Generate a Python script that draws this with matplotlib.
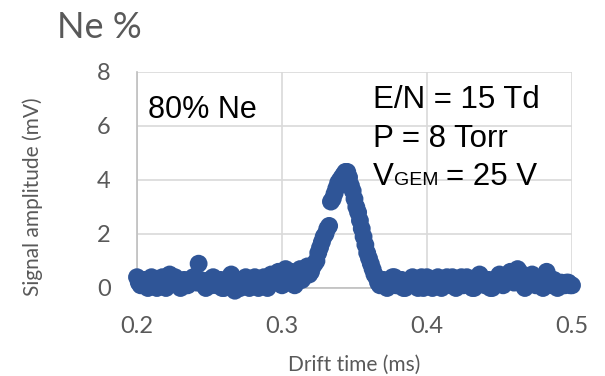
import numpy as np
import matplotlib.pyplot as plt

# drift time sampling (ms) and signal amplitude (mV)
drift_time = np.arange(0.2, 0.50001, 0.00125)
signal_mv = [
    0.4, 0.2, 0.1, 0.3, 0.3, 0.1, 0.0, 0.2, 0.4, 0.3,
    0.2, 0.0, 0.1, 0.3, 0.4, 0.2, 0.0, 0.3, 0.5, 0.2,
    0.2, 0.4, 0.3, 0.1, 0.0, 0.2, 0.3, 0.1, 0.1, 0.3,
    0.2, 0.4, 0.4, 0.2, 0.9, 0.3, 0.2, 0.1, 0.0, 0.2,
    0.3, 0.1, 0.4, 0.2, 0.1, 0.3, 0.3, 0.0, 0.0, 0.2,
    0.2, 0.4, 0.5, 0.1, -0.1, 0.2, 0.3, 0.0, 0.1, 0.3,
    0.4, 0.2, 0.0, 0.1, 0.2, 0.4, 0.3, 0.0, 0.1, 0.3,
    0.4, 0.1, 0.0, 0.3, 0.5, 0.2, 0.2, 0.4, 0.6, 0.3,
    0.1, 0.5, 0.7, 0.2, 0.3, 0.6, 0.5, 0.1, 0.2, 0.5,
    0.7, 0.3, 0.4, 0.6, 0.8, 0.5, 0.6, 0.8, 0.9, 1.0,
    1.3, 1.5, 1.7, 1.9, 2.0, 2.2, 2.3, 3.2, 3.3, 3.5,
    3.7, 3.9, 4.0, 4.1, 4.2, 4.3, 4.3, 4.1, 3.8, 3.6,
    3.3, 3.0, 2.8, 2.5, 2.2, 1.9, 1.6, 1.3, 1.1, 0.9,
    0.7, 0.5, 0.4, 0.2, 0.1, 0.2, 0.3, 0.1, 0.0, 0.1,
    0.2, 0.4, 0.4, 0.1, 0.1, 0.3, 0.3, 0.0, 0.0, 0.2,
    0.2, 0.3, 0.4, 0.2, 0.1, 0.0, 0.3, 0.4, 0.0, 0.1,
    0.4, 0.3, 0.2, 0.0, 0.1, 0.3, 0.4, 0.2, 0.0, 0.1,
    0.3, 0.4, 0.2, 0.1, 0.4, 0.2, 0.0, 0.1, 0.3, 0.4,
    0.1, 0.2, 0.4, 0.3, 0.2, 0.0, 0.0, 0.2, 0.3, 0.5,
    0.4, 0.2, 0.1, 0.3, 0.3, 0.0, 0.0, 0.1, 0.2, 0.4,
    0.5, 0.3, 0.1, 0.2, 0.3, 0.5, 0.6, 0.4, 0.2, 0.5,
    0.7, 0.6, 0.4, 0.1, 0.0, 0.2, 0.3, 0.4, 0.5, 0.2,
    0.1, 0.2, 0.3, 0.1, 0.0, 0.3, 0.6, 0.4, 0.2, 0.1,
    0.3, 0.2, 0.0, 0.1, 0.2, 0.1, 0.1, 0.2, 0.2, 0.1,
    0.1,
]
assert len(drift_time) == len(signal_mv)

x_ticks = [0.2, 0.3, 0.4, 0.5]
y_ticks = [0, 2, 4, 6, 8]

W, H = 605, 376
fig = plt.figure(figsize=(W / 100, H / 100), dpi=100)
ax = fig.add_axes([137 / W, 1 - 288 / H, (572 - 137) / W, (288 - 72) / H])

ax.scatter(drift_time, signal_mv, s=165, color='#2F5597', edgecolors='none',
           clip_on=False, zorder=3)

ax.set_xlim(0.2, 0.5)
ax.set_ylim(0, 8)
ax.set_xticks(x_ticks)
ax.set_xticklabels([str(v) for v in x_ticks])
ax.set_yticks(y_ticks)
ax.grid(True, color='#D9D9D9', linewidth=1.2)
ax.set_axisbelow(True)
for s in ['top', 'right']:
    ax.spines[s].set_visible(False)
for s in ['left', 'bottom']:
    ax.spines[s].set_color('#BFBFBF')
    ax.spines[s].set_linewidth(1.2)
ax.tick_params(length=0, labelsize=17, labelcolor='#595959')
ax.tick_params(axis='x', pad=20)
ax.tick_params(axis='y', pad=19)
for lab in ax.get_xticklabels() + ax.get_yticklabels():
    lab.set_family('Lato')


def px(x, y):
    return x / W, 1 - y / H


gray = '#595959'
fig.text(*px(57, 38), 'Ne %', fontsize=26, color=gray, family='Lato', va='baseline')
fig.text(*px(33, 197), 'Signal amplitude (mV)', fontsize=15, color=gray, family='Lato',
         rotation=90, ha='center', va='center')
fig.text(*px(354, 371), 'Drift time (ms)', fontsize=15, color=gray, family='Lato',
         ha='center', va='baseline')

arial = 'Liberation Sans'
fig.text(*px(148, 118), '80% Ne', fontsize=22, family=arial, va='baseline')
fig.text(*px(373, 108), 'E/N = 15 Td', fontsize=22.5, family=arial, va='baseline')
fig.text(*px(373, 147), 'P = 8 Torr', fontsize=22.5, family=arial, va='baseline')
fig.text(*px(373, 185), 'V', fontsize=22.5, family=arial, va='baseline')
fig.text(*px(394, 185), 'GEM', fontsize=14, family=arial, va='baseline')
fig.text(*px(446, 185), '= 25 V', fontsize=22.5, family=arial, va='baseline')

fig.savefig('out.png', dpi=100)
